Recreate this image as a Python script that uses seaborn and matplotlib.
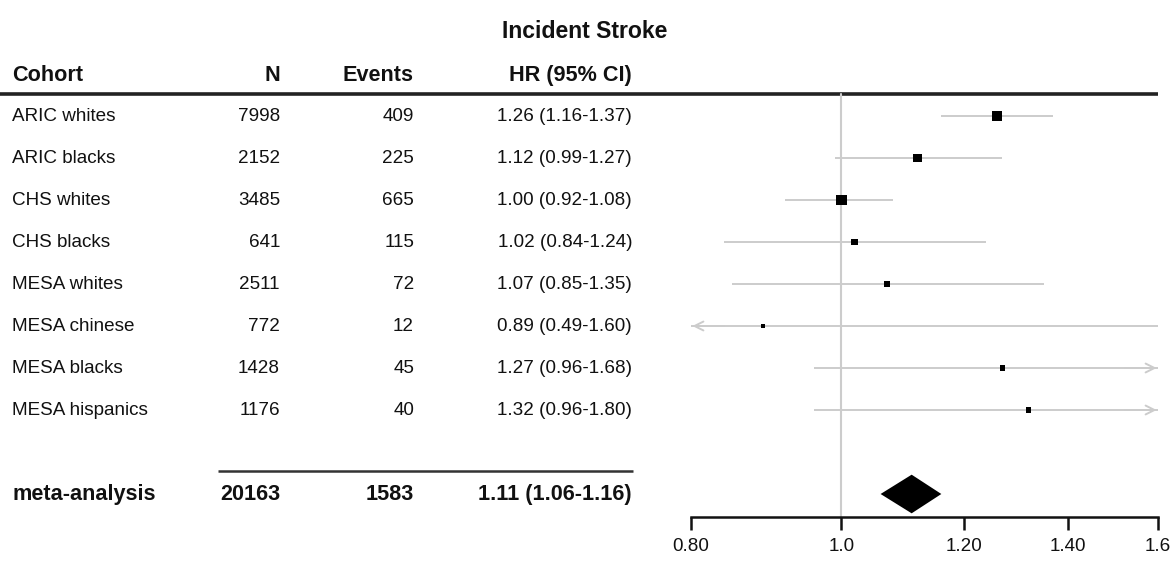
import numpy as np
import pandas as pd
import matplotlib
matplotlib.use("Agg")
import matplotlib.pyplot as plt
import seaborn as sns

# ---- data -------------------------------------------------------------
cohorts = ["ARIC whites", "ARIC blacks", "CHS whites", "CHS blacks",
           "MESA whites", "MESA chinese", "MESA blacks", "MESA hispanics"]
n_subjects = [7998, 2152, 3485, 641, 2511, 772, 1428, 1176]
n_events = [409, 225, 665, 115, 72, 12, 45, 40]
hr = [1.26, 1.12, 1.00, 1.02, 1.07, 0.89, 1.27, 1.32]
ci_low = [1.16, 0.99, 0.92, 0.84, 0.85, 0.49, 0.96, 0.96]
ci_high = [1.37, 1.27, 1.08, 1.24, 1.35, 1.60, 1.68, 1.80]

meta_label = "meta-analysis"
meta_n = 20163
meta_events = 1583
meta_hr, meta_low, meta_high = 1.11, 1.06, 1.16

title = "Incident Stroke"
col_headers = ["Cohort", "N", "Events", "HR (95% CI)"]
x_ticks = [0.80, 1.0, 1.20, 1.40, 1.6]
x_tick_labels = ["0.80", "1.0", "1.20", "1.40", "1.6"]

# ---- layout helpers ---------------------------------------------------
W, H = 1173, 561
sns.set_theme(style="white")
plt.rcParams["font.family"] = ["Liberation Sans", "DejaVu Sans"]

df = pd.DataFrame({"cohort": cohorts, "n": n_subjects, "events": n_events,
                   "hr": hr, "lo": ci_low, "hi": ci_high})
df["row"] = np.arange(len(df))
# box area follows inverse standard error of log HR
se = (np.log(df["hi"]) - np.log(df["lo"])) / (2 * 1.959964)
df["prec"] = 1.0 / se
meta_row = len(df) + 1

# row r sits at pixel 116 + 42 r
def px_to_row(py):
    return (py - 116) / 42.0

ylim = (px_to_row(H), px_to_row(0))

fig = plt.figure(figsize=(W / 100, H / 100), dpi=100)
fig.patch.set_facecolor("white")

# text panel spanning the figure, in pixel-x / row-y coordinates
ax_t = fig.add_axes([0, 0, 1, 1])
ax_t.set_xlim(0, W)
ax_t.set_ylim(*ylim)
ax_t.axis("off")

# forest panel on a log axis
x0_px, x1_px = 691, 1158
ax_f = fig.add_axes([x0_px / W, 0, (x1_px - x0_px) / W, 1])
ax_f.patch.set_alpha(0)
ax_f.set_xscale("log")
ax_f.set_xlim(x_ticks[0], x_ticks[-1])
ax_f.set_ylim(*ylim)

REG = 13.6
BOLD = 15.6
ink = "#111111"
ci_col = "#cccccc"

# title and headers
ax_t.text(585, px_to_row(31), title, ha="center", va="center",
          fontsize=16.6, fontweight="bold", color=ink)
hdr_row = px_to_row(75)
col_x = [12, 280, 414, 632]
col_ha = ["left", "right", "right", "right"]
for lab, xx, ha in zip(col_headers, col_x, col_ha):
    ax_t.text(xx, hdr_row, lab, ha=ha, va="center", fontsize=BOLD,
              fontweight="bold", color=ink)

# header rule across table and plot
ax_t.plot([0, x1_px], [px_to_row(94)] * 2, color="#222222", lw=2.6,
          solid_capstyle="butt")

# table body
for r, rec in df.iterrows():
    vals = [rec["cohort"], f"{rec['n']}", f"{rec['events']}",
            f"{rec['hr']:.2f} ({rec['lo']:.2f}-{rec['hi']:.2f})"]
    for v, xx, ha in zip(vals, col_x, col_ha):
        ax_t.text(xx, rec["row"], v, ha=ha, va="center", fontsize=REG,
                  color=ink)

# summary rule and row
ax_t.plot([218, 633], [px_to_row(471)] * 2, color="#333333", lw=1.8,
          solid_capstyle="butt")
meta_vals = [meta_label, f"{meta_n}", f"{meta_events}",
             f"{meta_hr:.2f} ({meta_low:.2f}-{meta_high:.2f})"]
for v, xx, ha in zip(meta_vals, col_x, col_ha):
    ax_t.text(xx, meta_row, v, ha=ha, va="center", fontsize=BOLD,
              fontweight="bold", color=ink)

# reference line at HR = 1
axis_row = px_to_row(517)
ax_f.plot([1.0, 1.0], [px_to_row(94), axis_row], color=ci_col, lw=1.5,
          zorder=1)

# confidence intervals, arrows where they leave the axis range
xmin, xmax = x_ticks[0], x_ticks[-1]
for _, rec in df.iterrows():
    lo, hi, y = rec["lo"], rec["hi"], rec["row"]
    lo_c, hi_c = max(lo, xmin), min(hi, xmax)
    ax_f.plot([lo_c, hi_c], [y, y], color=ci_col, lw=1.4, zorder=2,
              solid_capstyle="butt")
    if lo < xmin:
        ax_f.annotate("", xy=(xmin * 1.002, y), xytext=(xmin * 1.05, y),
                      arrowprops=dict(arrowstyle="->", color=ci_col, lw=1.4,
                                      mutation_scale=16, shrinkA=0,
                                      shrinkB=0))
    if hi > xmax:
        ax_f.annotate("", xy=(xmax / 1.002, y), xytext=(xmax / 1.05, y),
                      arrowprops=dict(arrowstyle="->", color=ci_col, lw=1.4,
                                      mutation_scale=16, shrinkA=0,
                                      shrinkB=0))

# point estimates, box area proportional to precision
sns.scatterplot(data=df, x="hr", y="row", size="prec",
                sizes=(0, 58), size_norm=(0, df["prec"].max()),
                marker="s", color="black", linewidth=0, legend=False,
                ax=ax_f, zorder=3)

# pooled estimate diamond
half_h = 0.46
ax_f.fill([meta_low, meta_hr, meta_high, meta_hr],
          [meta_row, meta_row - half_h, meta_row, meta_row + half_h],
          color="black", lw=0, zorder=3)

# x axis drawn through the bottom spine
for s in ["top", "right", "left"]:
    ax_f.spines[s].set_visible(False)
ax_f.spines["bottom"].set_position(("data", axis_row))
ax_f.spines["bottom"].set_linewidth(1.8)
ax_f.spines["bottom"].set_color("#111111")
ax_f.set_yticks([])
ax_f.set_xticks(x_ticks)
ax_f.set_xticklabels(x_tick_labels)
ax_f.xaxis.set_minor_locator(matplotlib.ticker.NullLocator())
ax_f.tick_params(axis="x", which="major", direction="out", length=9,
                 width=1.8, color="#111111", labelsize=REG, pad=6,
                 labelcolor=ink, bottom=True)
ax_f.set_xlabel("")
ax_f.set_ylabel("")

fig.savefig("out.png", dpi=100, facecolor="white")
